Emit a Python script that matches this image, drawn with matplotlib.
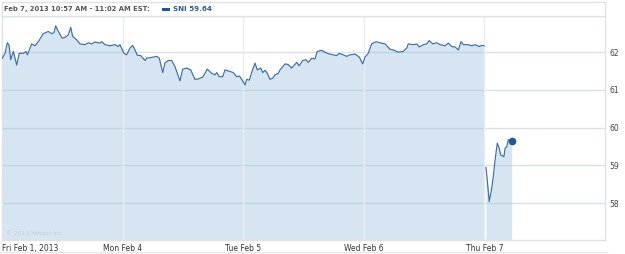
"""
SNI intraday 5-day chart (Yahoo style), Feb 1 - Feb 7 2013.
x is measured in trading days since the Fri Feb 1 open.
"""

import matplotlib
matplotlib.use("Agg")
import matplotlib.pyplot as plt
from matplotlib.patches import Rectangle

# ── data ──────────────────────────────────────────────────────────────────────

day_labels = ["Fri Feb 1, 2013", "Mon Feb 4", "Tue Feb 5", "Wed Feb 6", "Thu Feb 7"]
y_ticks = [58, 59, 60, 61, 62]

# Fri -> Wed (one continuous line)
t_week = [
    0.000, 0.025, 0.044, 0.058, 0.072, 0.094, 0.122, 0.143, 0.177, 0.199,
    0.210, 0.246, 0.274, 0.301, 0.342, 0.384, 0.412, 0.431, 0.445, 0.467,
    0.500, 0.528, 0.550, 0.570, 0.586, 0.619, 0.647, 0.688, 0.716, 0.744,
    0.771, 0.813, 0.827, 0.854, 0.896, 0.937, 0.964, 0.978, 0.993,
    1.012, 1.034, 1.061, 1.084, 1.103, 1.122, 1.150, 1.186, 1.200, 1.255,
    1.283, 1.304, 1.333, 1.352, 1.379, 1.407, 1.434, 1.476, 1.498, 1.532,
    1.565, 1.600, 1.628, 1.664, 1.702, 1.739, 1.766, 1.781, 1.802, 1.830,
    1.849, 1.891, 1.918, 1.946, 1.968, 1.988,
    2.015, 2.029, 2.051, 2.070, 2.098, 2.117, 2.145, 2.162, 2.181, 2.200,
    2.222, 2.245, 2.264, 2.291, 2.305, 2.347, 2.374, 2.402, 2.444, 2.465,
    2.493, 2.521, 2.540, 2.568, 2.595, 2.614, 2.651, 2.678, 2.706, 2.747,
    2.775, 2.797, 2.830, 2.858, 2.886, 2.927, 2.963, 2.991,
    3.010, 3.037, 3.065, 3.101, 3.134, 3.176, 3.217, 3.245, 3.286, 3.327,
    3.356, 3.369, 3.411, 3.439, 3.460, 3.494, 3.522, 3.543, 3.571, 3.604,
    3.632, 3.673, 3.701, 3.729, 3.756, 3.784, 3.806, 3.826, 3.867, 3.894,
    3.922, 3.958, 3.978, 3.997,
]
p_week = [
    61.83, 61.97, 62.25, 62.19, 61.80, 62.02, 61.66, 61.97, 61.97, 62.02,
    61.93, 62.22, 62.17, 62.28, 62.49, 62.55, 62.49, 62.52, 62.70, 62.55,
    62.37, 62.40, 62.46, 62.66, 62.42, 62.33, 62.22, 62.20, 62.25, 62.22,
    62.27, 62.24, 62.28, 62.20, 62.17, 62.20, 62.15, 62.20, 62.10,
    61.97, 61.93, 62.11, 62.18, 62.06, 61.92, 61.91, 61.78, 61.84, 61.87,
    61.89, 61.84, 61.46, 61.72, 61.78, 61.78, 61.62, 61.24, 61.55, 61.58,
    61.53, 61.28, 61.29, 61.34, 61.55, 61.44, 61.40, 61.46, 61.35, 61.35,
    61.53, 61.49, 61.46, 61.35, 61.37, 61.28,
    61.13, 61.28, 61.26, 61.46, 61.71, 61.53, 61.58, 61.46, 61.52, 61.44,
    61.28, 61.31, 61.40, 61.44, 61.53, 61.69, 61.67, 61.58, 61.73, 61.64,
    61.78, 61.80, 61.73, 61.84, 61.82, 62.02, 62.05, 62.00, 61.96, 61.93,
    61.91, 61.97, 61.93, 61.89, 61.93, 61.95, 61.87, 61.69,
    61.87, 61.97, 62.22, 62.28, 62.25, 62.22, 62.08, 62.06, 62.00, 62.02,
    62.11, 62.22, 62.20, 62.22, 62.14, 62.20, 62.22, 62.31, 62.22, 62.25,
    62.20, 62.17, 62.24, 62.15, 62.14, 62.06, 62.28, 62.20, 62.20, 62.17,
    62.20, 62.15, 62.18, 62.17,
]

# Thu Feb 7 (gap down at the open)
t_thu = [4.013, 4.024, 4.040, 4.060, 4.073, 4.088, 4.107, 4.123, 4.135, 4.151,
         4.162, 4.171, 4.185, 4.198, 4.212, 4.226]
p_thu = [58.94, 58.60, 58.04, 58.38, 58.69, 59.13, 59.59, 59.45, 59.28, 59.25,
         59.23, 59.45, 59.49, 59.68, 59.65, 59.64]

header = "Feb 7, 2013 10:57 AM - 11:02 AM EST:"
quote = "SNI 59.64"

# ── plot ──────────────────────────────────────────────────────────────────────

LINE = "#3c6ea0"
FILL = "#d6e5f1"
YMIN, YMAX = 57.02, 62.96

fig = plt.figure(figsize=(6.25, 2.54), dpi=100)
ax = fig.add_axes([2 / 625, 14 / 254, 603 / 625, 224 / 254])

for t, p in [(t_week, p_week), (t_thu, p_thu)]:
    ax.fill_between(t, p, YMIN, color=FILL, linewidth=0, zorder=1)
    ax.plot(t, p, color=LINE, linewidth=0.85, zorder=4)
ax.plot(t_thu[-1], p_thu[-1], "o", color="#1f5a94", markersize=4.5, zorder=5)

for y in y_ticks:
    ax.axhline(y, color="#a8c0d4", alpha=0.45, linewidth=1.0, zorder=2)
for d in range(1, 5):
    ax.axvline(d, color="#e6edf3", linewidth=1.0, zorder=3)

ax.set_xlim(0, 5.0)
ax.set_ylim(YMIN, YMAX)

ax.yaxis.tick_right()
ax.set_yticks(y_ticks)
ax.set_yticklabels([str(v) for v in y_ticks], fontsize=5.5, color="#444")
ax.tick_params(axis="y", length=0, pad=3)

ax.set_xticks(range(5))
ax.set_xticklabels(day_labels, fontsize=5.5, color="#333")
ax.tick_params(axis="x", length=0, pad=3)
ax.get_xticklabels()[0].set_horizontalalignment("left")

for s in ax.spines.values():
    s.set_color("#dde3e8")
    s.set_linewidth(1.0)

ax.text(0.006, 0.02, "\u00a9 2013 Yahoo! Inc.", transform=ax.transAxes,
        fontsize=4.3, color="#bccddb", va="bottom", ha="left", zorder=6)

# header strip
fig.patches.append(Rectangle((2 / 625, 238 / 254), 603 / 625, 14 / 254,
                             transform=fig.transFigure, facecolor="white",
                             edgecolor="#dde3e8", linewidth=1.0))
fig.text(4 / 625, 245 / 254, header, fontsize=4.9, color="#555",
         fontweight="bold", va="center", ha="left")
fig.patches.append(Rectangle((162 / 625, 243.5 / 254), 8 / 625, 3 / 254,
                             transform=fig.transFigure, facecolor="#1f5a94",
                             edgecolor="none"))
fig.text(173 / 625, 245 / 254, quote, fontsize=5.1, color="#2a5a8f",
         fontweight="bold", va="center", ha="left")

# light rule along the bottom
fig.add_artist(plt.Line2D([0, 607 / 625], [2 / 254, 2 / 254],
                          transform=fig.transFigure, color="#e3e7ea", linewidth=1.0))

fig.savefig("out.png", dpi=100)
